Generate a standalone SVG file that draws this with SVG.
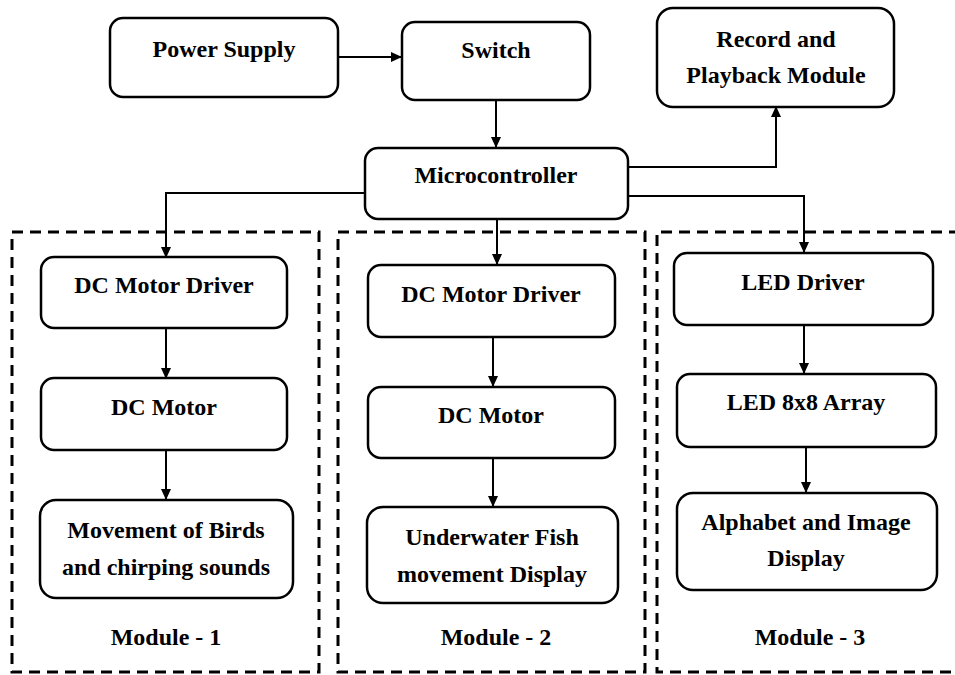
<svg xmlns="http://www.w3.org/2000/svg" width="955" height="675" viewBox="0 0 955 675">
<style>
.box{fill:#fff;stroke:#000;stroke-width:2.5}
.t{font-family:"Liberation Serif","Times New Roman",serif;font-weight:bold;font-size:24px;text-anchor:middle;fill:#000}
.c{fill:none;stroke:#000;stroke-width:2}
.d{fill:none;stroke:#000;stroke-width:3;stroke-dasharray:11 7}
</style>
<defs>
<marker id="ah" markerWidth="11" markerHeight="11" refX="10" refY="5.5" orient="auto" markerUnits="userSpaceOnUse">
<path d="M0,0.5 L11,5.5 L0,10.5 Z" fill="#000"/>
</marker>
</defs>
<rect width="955" height="675" fill="#fff"/>
<g id="modules">
<rect id="module1" class="d" x="12" y="232" width="307" height="440"/>
<rect id="module2" class="d" x="338" y="232" width="307" height="440"/>
<path id="module3" class="d" d="M960,232 H657 V672 H960"/>
</g>
<g id="connectors">
<line class="c" x1="338" y1="57" x2="401" y2="57" marker-end="url(#ah)"/>
<line class="c" x1="496" y1="100" x2="496" y2="147" marker-end="url(#ah)"/>
<path class="c" d="M628,167 H776 V107" marker-end="url(#ah)"/>
<path class="c" d="M628,196 H804 V252" marker-end="url(#ah)"/>
<path class="c" d="M365,193 H166 V257" marker-end="url(#ah)"/>
<line class="c" x1="497" y1="220" x2="497" y2="264" marker-end="url(#ah)"/>
<line class="c" x1="166" y1="329" x2="166" y2="378" marker-end="url(#ah)"/>
<line class="c" x1="166" y1="451" x2="166" y2="499" marker-end="url(#ah)"/>
<line class="c" x1="493" y1="337" x2="493" y2="386" marker-end="url(#ah)"/>
<line class="c" x1="493" y1="458" x2="493" y2="506" marker-end="url(#ah)"/>
<line class="c" x1="804" y1="325" x2="804" y2="373" marker-end="url(#ah)"/>
<line class="c" x1="806" y1="447" x2="806" y2="492" marker-end="url(#ah)"/>
</g>
<g id="power_supply"><rect class="box" x="110" y="18" width="228" height="79" rx="13"/><text class="t" x="224" y="57">Power Supply</text></g>
<g id="switch"><rect class="box" x="402" y="22" width="188" height="78" rx="13"/><text class="t" x="496" y="58">Switch</text></g>
<g id="record_playback"><rect class="box" x="657" y="8" width="237" height="99" rx="16"/><text class="t" x="776" y="47">Record and</text><text class="t" x="776" y="83">Playback Module</text></g>
<g id="microcontroller"><rect class="box" x="365" y="148" width="263" height="71" rx="13"/><text class="t" x="496" y="183">Microcontroller</text></g>
<g id="dc_driver_1"><rect class="box" x="41" y="257" width="246" height="71" rx="13"/><text class="t" x="164" y="293">DC Motor Driver</text></g>
<g id="dc_motor_1"><rect class="box" x="41" y="378" width="246" height="72" rx="13"/><text class="t" x="164" y="415">DC Motor</text></g>
<g id="birds"><rect class="box" x="40" y="500" width="253" height="98" rx="16"/><text class="t" x="166" y="538">Movement of Birds</text><text class="t" x="166" y="575">and chirping sounds</text></g>
<g id="dc_driver_2"><rect class="box" x="368" y="265" width="247" height="72" rx="13"/><text class="t" x="491" y="302">DC Motor Driver</text></g>
<g id="dc_motor_2"><rect class="box" x="368" y="387" width="247" height="71" rx="13"/><text class="t" x="491" y="423">DC Motor</text></g>
<g id="fish"><rect class="box" x="367" y="507" width="251" height="96" rx="16"/><text class="t" x="492" y="545">Underwater Fish</text><text class="t" x="492" y="582">movement Display</text></g>
<g id="led_driver"><rect class="box" x="674" y="253" width="259" height="72" rx="13"/><text class="t" x="803" y="290">LED Driver</text></g>
<g id="led_array"><rect class="box" x="677" y="374" width="259" height="73" rx="13"/><text class="t" x="806" y="410">LED 8x8 Array</text></g>
<g id="alphabet"><rect class="box" x="677" y="493" width="260" height="97" rx="16"/><text class="t" x="806" y="530">Alphabet and Image</text><text class="t" x="806" y="566">Display</text></g>
<g id="labels">
<text class="t" x="166" y="645">Module - 1</text>
<text class="t" x="496" y="645">Module - 2</text>
<text class="t" x="810" y="645">Module - 3</text>
</g>
</svg>
